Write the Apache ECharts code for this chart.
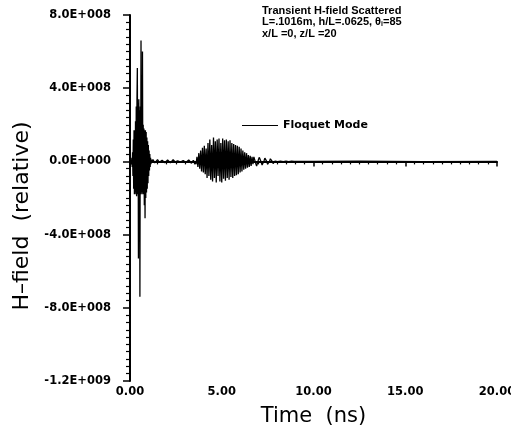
<!DOCTYPE html>
<html>
<head>
<meta charset="utf-8">
<script src="https://cdn.jsdelivr.net/npm/echarts@6/dist/echarts.min.js"></script>
<style>
  html, body { margin: 0; padding: 0; background: #fff; }
  #chart { width: 511px; height: 427px; }
</style>
</head>
<body>
<div id="chart"></div>
<script>
// first burst, sampled every 0.02 ns from t = 0 (H-field in units of 1E+008)
const earlyStep = 0.02;
const earlyValues = [
  0, 0.05, -0.1, 0.1, -0.15, 0.2, -0.3, 0.5, -0.8, 1.2,
  -1.5, 1.7, -1.8, 1.7, -1.7, 2.2, -1.8, 3.0, -1.9, 3.4,
  5.1, -1.8, 3.2, -5.3, 3.4, -1.9, 2.8, -7.4, 3.0, -1.8,
  6.6, -1.7, 3.3, -1.8, 6.0, -1.7, 2.0, -1.8, 1.8, -2.4,
  1.7, -3.1, 1.7, -2.0, 1.6, -1.7, 1.3, -1.5, 1.1, -1.2,
  0.9, -0.8, 0.6, -0.5, 0.4, -0.3, 0.2, -0.15, 0.1, -0.05
];

// rest of the trace, sampled every 0.05 ns from t = 1.2 ns to t = 10 ns
const lateStart = 1.2;
const lateStep = 0.05;
const lateValues = [
  -0.15, 0.1, 0.05, -0.08, -0.1, 0, 0.1, 0.08, -0.05, -0.1, -0.05, 0.06, 0.1, 0.04, -0.07, -0.1,
  -0.03, 0.08, 0.1, 0.02, -0.08, -0.09, 0, 0.09, 0.08, -0.02, -0.1, -0.07, 0.03, 0.1, 0.06, -0.04, -0.1, -0.05, 0.05, 0.1,
  0.04, -0.06, -0.1, -0.02, 0.08, 0.09, -0.01, -0.1, -0.06, 0.05, 0.12, 0.05, -0.15, 0.25, -0.3, 0.45, -0.4, 0.6, -0.55, 0.75,
  -0.6, 0.85, -0.7, 0.7, -0.9, 1.0, -0.8, 1.2, -1.0, 0.9, -1.1, 1.3, -0.9, 1.1, -1.15, 1.2, -0.8, 1.25, -1.1, 1.0,
  -1.15, 1.25, -0.95, 1.15, -1.05, 1.2, -0.9, 1.1, -1.0, 1.15, -0.85, 1.0, -0.9, 0.95, -0.8, 0.9, -0.75, 0.85, -0.7, 0.8,
  -0.6, 0.7, -0.55, 0.6, -0.45, 0.5, -0.4, 0.45, -0.35, 0.35, -0.3, 0.3, -0.25, 0.25, -0.15, 0.25, 0.2, -0.1, -0.25, -0.15,
  0.1, 0.22, 0.15, -0.05, -0.2, -0.15, 0.02, 0.18, 0.15, 0, -0.15, -0.14, 0, 0.14, 0.12, 0, -0.12, -0.11, 0.01, 0.11,
  0.1, -0.01, -0.1, -0.09, 0.01, 0.09, 0.08, -0.01, -0.08, -0.07, 0.01, 0.07, 0.06, -0.01, -0.06, -0.05, 0.01, 0.05, 0.05, 0,
  -0.05, -0.04, 0, 0.04, 0.04, 0, -0.04, -0.03, 0, 0.03, 0.03, 0, -0.03, -0.02, 0, 0.02, 0.02, 0, -0.02, -0.01,
  0
];

// flat tail of the trace
const tailTimes = [12.5, 16.0, 20.0];
const tailValues = [0.01, -0.01, 0];

const yTickLabels = ['-1.2E+009', '-8.0E+008', '-4.0E+008', '0.0E+000', '4.0E+008', '8.0E+008'];
const xTickLabels = ['0.00', '5.00', '10.00', '15.00', '20.00'];

const seriesName = 'Floquet Mode';
const noteLines = [
  'Transient H-field Scattered',
  'L=.1016m, h/L=.0625, θ{s|i}=85',
  'x/L =0, z/L =20'
];

const points = earlyValues.map((v, i) => [i * earlyStep, v])
  .concat(lateValues.map((v, i) => [lateStart + i * lateStep, v]))
  .concat(tailTimes.map((t, i) => [t, tailValues[i]]));

const chart = echarts.init(document.getElementById('chart'));
const labelFont = { fontFamily: 'DejaVu Sans', fontWeight: 'bold', fontSize: 11.5, color: '#000' };

chart.setOption({
  animation: false,
  backgroundColor: '#fff',
  grid: { left: 130, right: 14, top: 15, bottom: 46, outerBoundsMode: 'none' },
  legend: {
    data: [seriesName],
    left: 237,
    top: 115,
    itemWidth: 36,
    itemHeight: 10,
    itemGap: 9,
    icon: 'path://M0,4.5 L36,4.5 L36,5.5 L0,5.5 Z',
    textStyle: { ...labelFont, fontSize: 11 }
  },
  graphic: [{
    type: 'text',
    left: 262,
    top: 5,
    style: {
      text: noteLines.join('\n'),
      font: 'bold 11px "Liberation Sans"',
      lineHeight: 11.5,
      fill: '#000',
      rich: {
        s: { font: 'bold 7px "Liberation Sans"', fill: '#000', verticalAlign: 'bottom', padding: [4, 0, 0, 0] }
      }
    }
  }],
  xAxis: {
    type: 'value',
    min: 0,
    max: 20,
    interval: 5,
    name: 'Time  (ns)',
    nameLocation: 'middle',
    nameGap: 25,
    nameTextStyle: { fontFamily: 'DejaVu Sans', fontSize: 21, color: '#000' },
    axisLine: { lineStyle: { color: '#000', width: 2 } },
    axisTick: { length: 5, lineStyle: { color: '#000', width: 1.5 } },
    minorTick: { show: true, splitNumber: 10, length: 3, lineStyle: { color: '#000', width: 1.2 } },
    splitLine: { show: false },
    axisLabel: {
      ...labelFont,
      margin: 5,
      formatter: (v) => xTickLabels[Math.round(v / 5)]
    }
  },
  yAxis: {
    type: 'value',
    min: -12,
    max: 8,
    interval: 4,
    name: 'H–field  (relative)',
    nameLocation: 'middle',
    nameGap: 93,
    nameTextStyle: { fontFamily: 'DejaVu Sans', fontSize: 22, color: '#000', padding: [0, 36, 0, 0] },
    axisLine: { show: true, lineStyle: { color: '#000', width: 2 } },
    axisTick: { show: true, length: 7, lineStyle: { color: '#000', width: 1.5 } },
    minorTick: { show: true, splitNumber: 10, length: 4, lineStyle: { color: '#000', width: 1.2 } },
    splitLine: { show: false },
    axisLabel: {
      ...labelFont,
      margin: 19,
      formatter: (v) => yTickLabels[Math.round((v + 12) / 4)]
    }
  },
  series: [{
    name: seriesName,
    type: 'line',
    data: points,
    symbol: 'none',
    lineStyle: { color: '#000', width: 1.3 },
    itemStyle: { color: '#000' }
  }]
});
</script>
</body>
</html>
